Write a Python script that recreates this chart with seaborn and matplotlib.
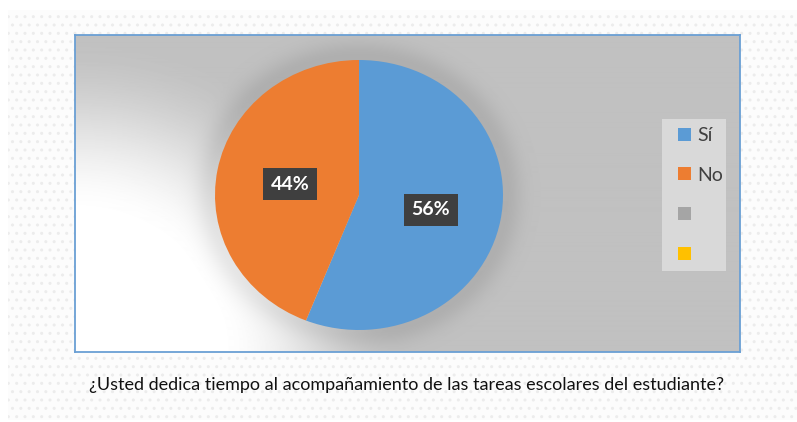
import numpy as np
import matplotlib
matplotlib.use("Agg")
import matplotlib.pyplot as plt
import seaborn as sns
from matplotlib.patches import Rectangle, Patch

sns.set_theme(style="white")
plt.rcParams['font.family'] = ['Lato', 'DejaVu Sans']

categories = ["Sí", "No", "", ""]
values = [56, 44, 0, 0]
colors = ["#5B9BD5", "#ED7D31", "#A5A5A5", "#FFC000"]
title = "¿Usted dedica tiempo al acompañamiento de las tareas escolares del estudiante?"

W, H = 797, 422
fig = plt.figure(figsize=(W / 100, H / 100), dpi=100)
fig.patch.set_facecolor("white")

def fr(x0, y0, x1, y1):
    return [x0 / W, 1 - y1 / H, (x1 - x0) / W, (y1 - y0) / H]

# dotted outer background
bg = fig.add_axes([0, 0, 1, 1])
bg.set_xlim(0, W); bg.set_ylim(H, 0); bg.axis("off")
bg.add_patch(Rectangle((8, 10), W - 8, H - 12, facecolor="#fcfcfc",
                       edgecolor="#ececec", hatch="..", linewidth=0))
bg.text(407, 385, title, ha="center", va="center", fontsize=13, color="#111111")

# chart frame with gradient
frame = fig.add_axes(fr(75, 35, 740, 352))
nx, ny = 665, 317
xx, yy = np.meshgrid(np.linspace(0, 1, nx), np.linspace(0, 1, ny))
gray = 0.755
d = np.sqrt((xx / 0.5) ** 2 + ((1 - yy) / 1.0) ** 2)
t = np.clip((d - 0.42) / 0.58, 0, 1)
t = t * t * (3 - 2 * t)
img = 1.0 - (1.0 - gray) * t
# soft shadow around pie
cx, cy, rx, ry = 359 - 75, 195 - 35, 144, 135
ds = np.sqrt(((xx * 665 - cx) / rx) ** 2 + ((yy * 317 - cy) / ry) ** 2)
shadow = np.exp(-((ds - 1.02) / 0.12) ** 2) * 0.07
img = np.clip(img - shadow, 0, 1)
frame.imshow(img, cmap="gray", vmin=0, vmax=1, aspect="auto",
             extent=[0, 1, 1, 0], interpolation="bilinear")
frame.set_xlim(0, 1); frame.set_ylim(1, 0)
frame.set_xticks([]); frame.set_yticks([])
for s in frame.spines.values():
    s.set_color("#6a9fd4"); s.set_linewidth(1.3)

# pie
ax = fig.add_axes(fr(215, 60, 503, 330))
ax.patch.set_alpha(0)
wedges, _ = ax.pie(values[:2], colors=colors[:2], startangle=90, counterclock=False,
                   radius=1.0, wedgeprops=dict(linewidth=0))
ax.set_xlim(-1, 1); ax.set_ylim(-1, 1); ax.set_aspect("auto")
label_pos = [(0.5, -0.11), (-0.48, 0.08)]
for (lx, ly), v in zip(label_pos, values[:2]):
    ax.text(lx, ly, f"{v}%", ha="center", va="center",
            fontsize=14, fontweight="bold", color="white",
            bbox=dict(boxstyle="square,pad=0.4", facecolor="#3f3f3f", edgecolor="none"))

# legend
lax = fig.add_axes(fr(662, 119, 726, 271))
lax.set_xlim(0, 1); lax.set_ylim(1, 0); lax.axis("off")
lax.add_patch(Rectangle((0, 0), 1, 1, facecolor="#d9d9d9", edgecolor="none"))
handles = [Patch(facecolor=c, edgecolor="none") for c in colors]
leg = lax.legend(handles, categories, loc="center left", bbox_to_anchor=(0.13, 0.5),
                 frameon=False, fontsize=14,
                 handlelength=0.65, handleheight=0.65, labelspacing=1.17,
                 handletextpad=0.35, borderaxespad=0, labelcolor="#404040")

fig.savefig("out.png", dpi=100)
